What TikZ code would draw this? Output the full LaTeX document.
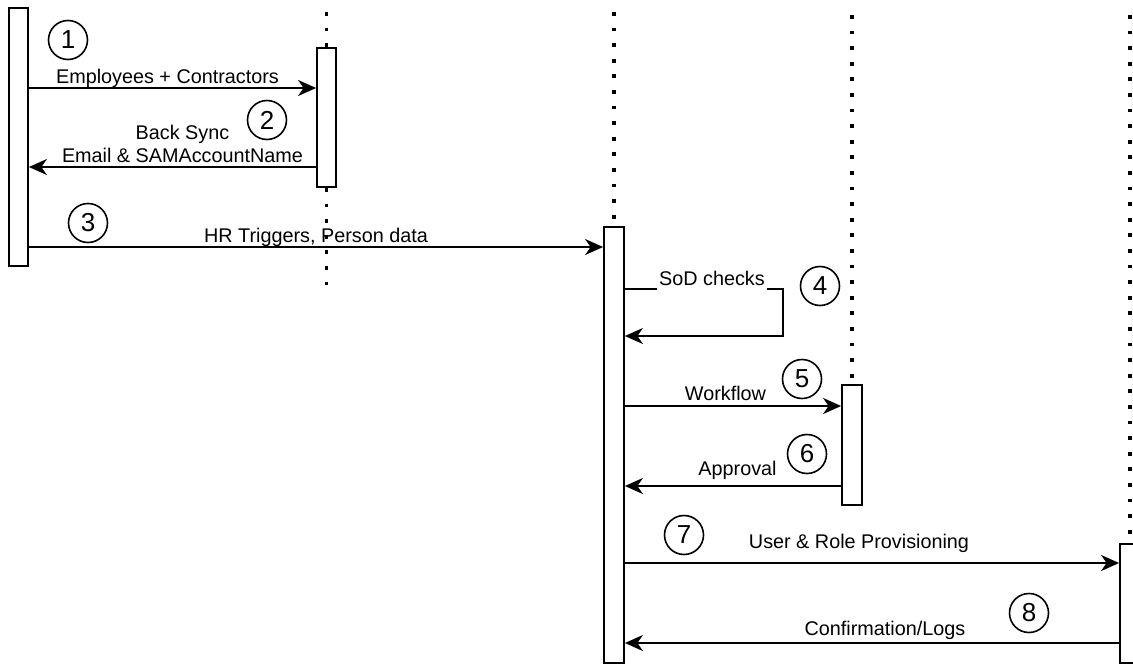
\documentclass[tikz,border=0pt]{standalone}
\usepackage{fontspec}
\setmainfont{Liberation Sans}
\usetikzlibrary{arrows.meta}
\begin{document}
\begin{tikzpicture}[x=1pt,y=-1pt,
  act/.style={draw, line width=1.8pt, fill=white, minimum width=19pt, inner sep=0pt},
  life/.style={line width=3.8pt, dash pattern=on 3.8pt off 11.8pt},
  msg/.style={line width=1.8pt, -{Stealth[length=18pt,width=16pt,inset=5.5pt]}},
  lbl/.style={font=\fontsize{19.8}{23}\selectfont, inner sep=0pt, anchor=base},
  num/.style={draw, circle, line width=1.6pt, minimum size=39pt, inner sep=0pt, font=\fontsize{26}{26}\selectfont}
]
\useasboundingbox (0,0) rectangle (1133,664);
\clip (0,0) rectangle (1133,664);

% activation boxes
\node[act, minimum height=258pt] (b1) at (18.5,137) {};
\node[act, minimum height=139pt] (b2) at (326.5,117.5) {};
\node[act, minimum width=20pt, minimum height=436pt] (b3) at (614,445) {};
\node[act, minimum width=20pt, minimum height=120pt] (b4) at (852,445) {};
\node[act, minimum width=20pt, minimum height=119pt] (b5) at (1130,603.5) {};

% lifelines
\draw[life] (b2.north |- 0,12) -- (b2.north);
\draw[life] (b2.south) -- (b2.south |- 0,292);
\draw[life] (b3.north |- 0,12) -- (b3.north);
\draw[life] (b4.north |- 0,15) -- (b4.north);
\draw[life] (b5.north |- 0,15) -- (b5.north);

% messages
\draw[msg] (b1.east |- 0,88) -- (b2.west |- 0,88);
\draw[msg] (b2.west |- 0,167) -- (b1.east |- 0,167);
\draw[msg] (b1.east |- 0,247) -- (b3.west |- 0,247);
\coordinate (sodA) at (783,289);
\coordinate (sodB) at (783,336);
\draw[msg] (b3.east |- sodA) -- (sodA) -- (sodB) -- (b3.east |- sodB);
\draw[msg] (b3.east |- 0,406) -- (b4.west |- 0,406);
\draw[msg] (b4.west |- 0,486) -- (b3.east |- 0,486);
\draw[msg] (b3.east |- 0,563) -- (b5.west |- 0,563);
\draw[msg] (b5.west |- 0,643) -- (b3.east |- 0,643);

% labels
\node[lbl] (l1) at (167.5,83) {Employees + Contractors};
\node[lbl] (l2a) at (182.5,139) {Back Sync};
\node[lbl] (l2b) at (182.5,162) {Email \& SAMAccountName};
\node[lbl] (l3) at (316,242) {HR Triggers, Person data};
\node[lbl, fill=white, inner xsep=2pt, text depth=7pt] (l4) at (712,285) {SoD checks};
\node[lbl] (l5) at (725.5,400) {Workflow};
\node[lbl] (l6) at (737.5,475) {Approval};
\node[lbl] (l7) at (859,548) {User \& Role Provisioning};
\node[lbl] (l8) at (885,635) {Confirmation/Logs};

% step numbers
\node[num] (n1) at (68,40) {1};
\node[num] (n2) at (267,120) {2};
\node[num] (n3) at (88,223) {3};
\node[num] (n4) at (820,286) {4};
\node[num] (n5) at (802,379) {5};
\node[num] (n6) at (807,454) {6};
\node[num] (n7) at (684,535) {7};
\node[num] (n8) at (1029,613) {8};
\end{tikzpicture}
\end{document}
